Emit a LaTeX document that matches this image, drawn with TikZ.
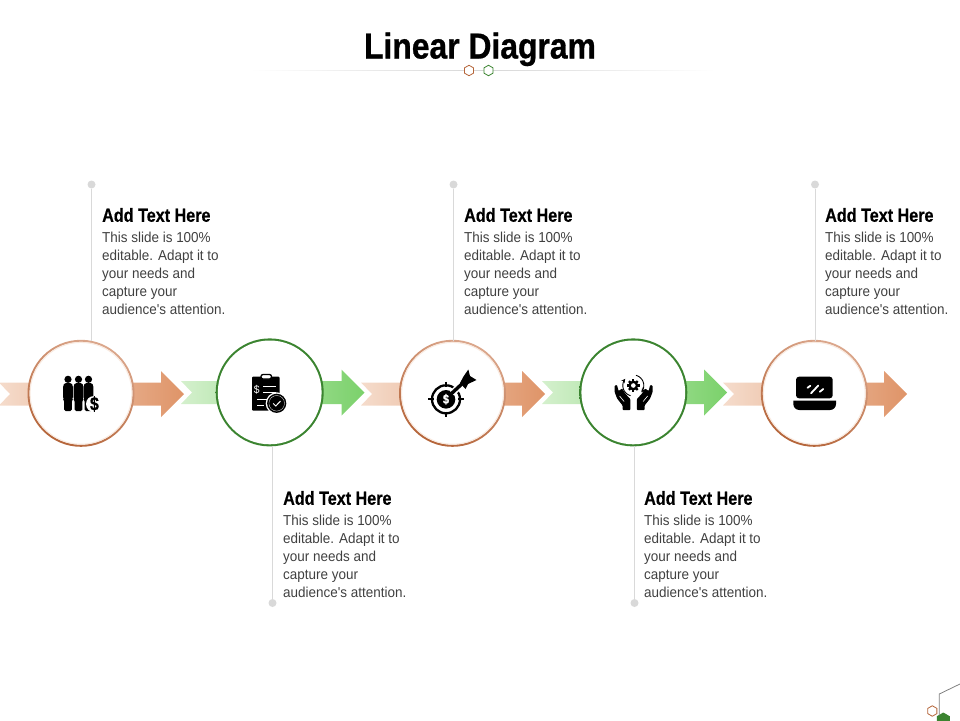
\documentclass[tikz,border=0pt]{standalone}
\usepackage{fontspec}
\usetikzlibrary{positioning,shapes.geometric}
\newfontfamily\bodyfont[FakeStretch=0.935]{Liberation Sans}
\newfontfamily\headfont[FakeStretch=0.85,FakeBold=0.4]{Liberation Sans Bold}
\newfontfamily\titlefont[FakeStretch=0.885,FakeBold=0.8]{Liberation Sans Bold}
\definecolor{rust}{HTML}{B5653A}
\definecolor{rustlight}{HTML}{DBA78C}
\definecolor{forest}{HTML}{3B8430}
\definecolor{peach}{HTML}{DF9468}
\definecolor{peachpale}{HTML}{F5DCCC}
\definecolor{leaf}{HTML}{7BD16B}
\definecolor{leafpale}{HTML}{D4F0CD}
\definecolor{leader}{HTML}{D9D9D9}
\definecolor{bodygray}{HTML}{404040}

\begin{document}
\begin{tikzpicture}[
    x=1pt,y=-1pt,
    title/.style={font=\titlefont\fontsize{36}{40}\selectfont},
    head/.style={font=\headfont\fontsize{19}{22}\selectfont,inner sep=0pt},
    bodytext/.style={font=\bodyfont\fontsize{14.4}{18}\selectfont,text=bodygray,align=left,inner sep=0pt},
    dot/.style={circle,fill=leader,minimum size=8pt,inner sep=0pt},
    hex/.style={regular polygon,regular polygon sides=6,regular polygon rotate=30,draw=#1,fill=white,line width=.8pt,minimum size=10.5pt,inner sep=0pt},
    ring/.style={circle,minimum size=#1,inner sep=0pt},
    ringrust/.style={ring=107pt,top color=rustlight,bottom color=rust,shading angle=-25,
      path picture={\fill[white] (path picture bounding box.center) circle (51.4);
        \draw[peachpale!60,line width=1pt] (path picture bounding box.center) circle (50.9);}},
    ringgreen/.style={ring=108pt,top color=forest,bottom color=forest,
      path picture={\fill[white] (path picture bounding box.center) circle (51.9);}},
    whitestroke/.style={draw=white,line width=1.8pt,line cap=round},
  ]
  \useasboundingbox (0,0) rectangle (960,720);

  \node[title,anchor=base] (heading) at (480,58.5) {Linear Diagram};
  \shade[left color=white,right color=white,middle color=black!16] (250,70.1) rectangle (715,70.9);
  \node[hex=rust] (hexa) at (469,70.5) {};
  \node[hex=forest] (hexb) at (488.5,70.5) {};

  \foreach \t/\e/\y/\pale/\solid in {-1/184/394/peachpale/peach,181/364.5/392.5/leafpale/leaf,
      361/545/394/peachpale/peach,542/727/392.5/leafpale/leaf,723/907/394/peachpale/peach}
    \shade[left color=\pale,middle color=\solid,right color=\solid]
      (\t,\y-11.5) -- (\e-23,\y-11.5) -- (\e-23,\y-23) -- (\e,\y) -- (\e-23,\y+23)
      -- (\e-23,\y+11.5) -- (\t,\y+11.5) -- (\t+11,\y) -- cycle;

  \foreach \n/\x/\y/\style/\side/\lx/\ly/\hx/\hy in {1/81/393.3/ringrust/north/91.5/184.5/102/215,
      2/269.7/392.4/ringgreen/south/272.5/603/283/498,3/452.5/393.3/ringrust/north/453.5/184.5/464/215,
      4/633.3/392.4/ringgreen/south/634.5/603/644/498,5/814.3/393.3/ringrust/north/815/184.5/825/215} {
    \node[dot] (d\n) at (\lx,\ly) {};
    \node[\style] (c\n) at (\x,\y) {};
    \draw[leader,line width=1pt,shorten >=-1pt] (d\n) -- (d\n |- c\n.\side);
    \node[head,anchor=west] (h\n) at (\hx,\hy) {Add Text Here};
    \node[bodytext,below right=10pt and 0pt of h\n.south west] (t\n)
      {This slide is 100\%\\editable. Adapt it to\\your needs and\\capture your\\audience's attention.};
  }

  % people
  \foreach \x in {68,78.5,88.5} {
    \fill (\x,379.3) circle (3.6);
    \fill[rounded corners=1.5] (\x-5,385.5) -- (\x-3,382.8) -- (\x+3,382.8) -- (\x+5,385.5) -- (\x+4.8,399)
      -- (\x+4,400) -- (\x+3.8,411) -- (\x-3.8,411) -- (\x-4,400) -- (\x-4.8,399) -- cycle;
  }
  \fill[white] (94,404) circle (8);
  \node[font=\headfont\fontsize{19}{19}\selectfont,inner sep=0pt] (usd) at (94.4,404) {\$};

  % clipboard
  \fill[rounded corners=1] (252,376.5) rectangle (279.5,410.7);
  \draw[line width=1.3pt,fill=white,rounded corners=2] (261,374.5) rectangle (271.5,379);
  \foreach \y/\a/\b in {386/263/276,392.5/263/276,399/257/270,405/257/264}
    \draw[white,line width=.9pt] (\a,\y) -- (\b,\y);
  \node[font=\bodyfont\fontsize{11}{11}\selectfont,text=white,inner sep=0pt] (clipusd) at (256.8,390) {\$};
  \fill[white] (276.7,403.3) circle (11);
  \fill (276.7,403.3) circle (9.6);
  \draw[white,line width=.3pt] (276.7,403.3) circle (7.8);
  \draw[white,line width=1pt] (273.2,403.5) -- (275.8,406) -- (280.5,401);

  % target and dart
  \draw[line width=2.3pt] (446,399.3) circle (14);
  \fill (446,399.3) circle (9.3);
  \node[font=\headfont\fontsize{13}{13}\selectfont,text=white,inner sep=0pt] (targetusd) at (446,399.3) {\$};
  \foreach \a/\b/\c/\d in {428/399.3/434/399.3,458/399.3/464/399.3,446/381.7/446/387,446/411.5/446/417.3}
    \draw[line width=2pt] (\a,\b) -- (\c,\d);
  \draw[white,line width=6.5pt] (452,393.3) -- (462,384);
  \draw[line width=3.4pt] (451.5,393.5) -- (464,382);
  \fill (468.3,369.5) -- (470,376) -- (476.5,380) -- (468,384) -- (465.5,389) -- (460,383) -- (463.5,376.5) -- cycle;

  % gear in hands
  \foreach \a in {0,45,...,315}
    \draw[line width=2.3pt] (633.3,385.5) -- ++(\a:6.2);
  \fill (633.3,385.5) circle (5);
  \fill[white] (633.3,385.5) circle (2.3);
  \draw[line width=.9pt,-stealth,domain=-75:40,samples=20,variable=\a] plot ({633.3+10.5*cos(\a)},{385.5+10.5*sin(\a)});
  \draw[line width=.9pt,-stealth,domain=105:220,samples=20,variable=\a] plot ({633.3+10.5*cos(\a)},{385.5+10.5*sin(\a)});
  \foreach \m in {1,-1} {
    \begin{scope}[shift={(633.6,0)},xscale=\m]
      \fill[rounded corners=.8] (-19,385.5) -- (-16.6,385) -- (-15,391) -- (-11.5,388.5) -- (-8,394)
        -- (-3.3,399) -- (-3.3,410) -- (-11,410) -- (-11,405.5) -- (-16.5,398.5) -- (-19,392) -- cycle;
      \draw[white,line width=.6pt] (-14,396) -- (-9.5,401.5);
    \end{scope}
  }

  % laptop
  \fill[rounded corners=3] (796,376.7) rectangle (832.7,398.3);
  \fill (793.3,400.7) -- (836,400.7) [rounded corners=6] -- (836,410) -- (793.3,410) [sharp corners] -- cycle;
  \draw[whitestroke] (811,393.3) -- (818.3,385.5);
  \draw[whitestroke] (807.5,387.8) -- (810.3,385.8);
  \draw[whitestroke] (819.8,391.8) -- (823.2,389);

  % corner
  \coordinate (cornerend) at (962,683);
  \coordinate (cornerbend) at (939.3,694);
  \node[hex=rust] (hexc) at (932.3,711) {};
  \node[regular polygon,regular polygon sides=6,regular polygon rotate=30,fill=forest,minimum size=15pt,inner sep=0pt] (hexd) at (943.3,720) {};
  \draw[gray,line width=.8pt,shorten >=-3pt] (cornerend) -- (cornerbend) -- (cornerbend |- hexd.north);
\end{tikzpicture}
\end{document}
